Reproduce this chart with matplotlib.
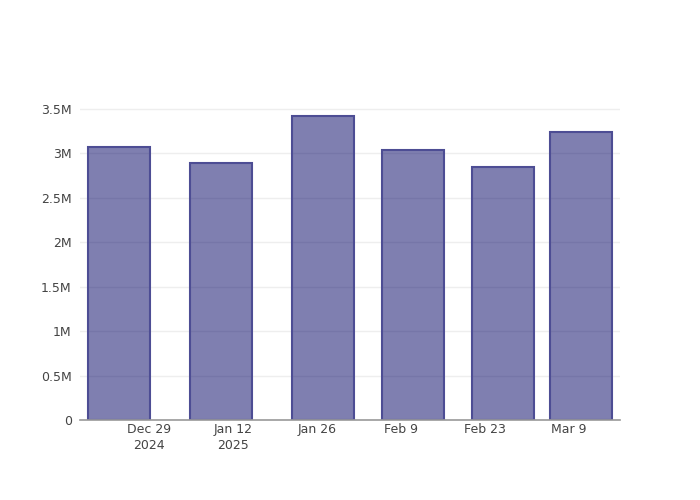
import pandas as pd
import matplotlib
matplotlib.use("Agg")
import matplotlib.pyplot as plt
from matplotlib.ticker import FuncFormatter

dates = ["2024-12-24", "2025-01-10", "2025-01-27", "2025-02-11", "2025-02-26", "2025-03-11"]
values = [3.072e6, 2.892e6, 3.421e6, 3.038e6, 2.847e6, 3.241e6]
tick_dates = ["2024-12-29", "2025-01-12", "2025-01-26", "2025-02-09", "2025-02-23", "2025-03-09"]
tick_labels = ["Dec 29\n2024", "Jan 12\n2025", "Jan 26", "Feb 9", "Feb 23", "Mar 9"]
y_ticks = [0, 0.5e6, 1e6, 1.5e6, 2e6, 2.5e6, 3e6, 3.5e6]


def fmt_m(v, pos):
    if v == 0:
        return "0"
    return f"{v / 1e6:g}M"


plt.rcParams["font.family"] = ["DejaVu Sans"]
fig = plt.figure(figsize=(7, 5), dpi=100)
ax = fig.add_axes([80 / 700, 80 / 500, 540 / 700, 320 / 500])

x = pd.to_datetime(dates)
ax.bar(x, values, width=10.4, facecolor=(0, 0, 0.39, 0.5),
       edgecolor="#4d4d94", linewidth=1.5, zorder=3)

ax.set_xlim(pd.Timestamp("2024-12-17 12:00"), pd.Timestamp("2025-03-17 12:00"))
ax.set_ylim(0, 3.6e6)
ax.set_yticks(y_ticks)
ax.yaxis.set_major_formatter(FuncFormatter(fmt_m))
ax.set_xticks(pd.to_datetime(tick_dates))
ax.set_xticklabels(tick_labels, linespacing=1.3)

ax.grid(axis="y", color="#eeeeee", linewidth=1, zorder=0)
for side in ["top", "right", "left"]:
    ax.spines[side].set_visible(False)
ax.spines["bottom"].set_color("#999999")
ax.spines["bottom"].set_linewidth(1.2)
ax.spines["bottom"].set_zorder(4)
ax.tick_params(axis="both", length=0, labelsize=9, colors="#444444")
ax.tick_params(axis="x", pad=2)
ax.tick_params(axis="y", pad=6)

fig.savefig("out.png", dpi=100)
